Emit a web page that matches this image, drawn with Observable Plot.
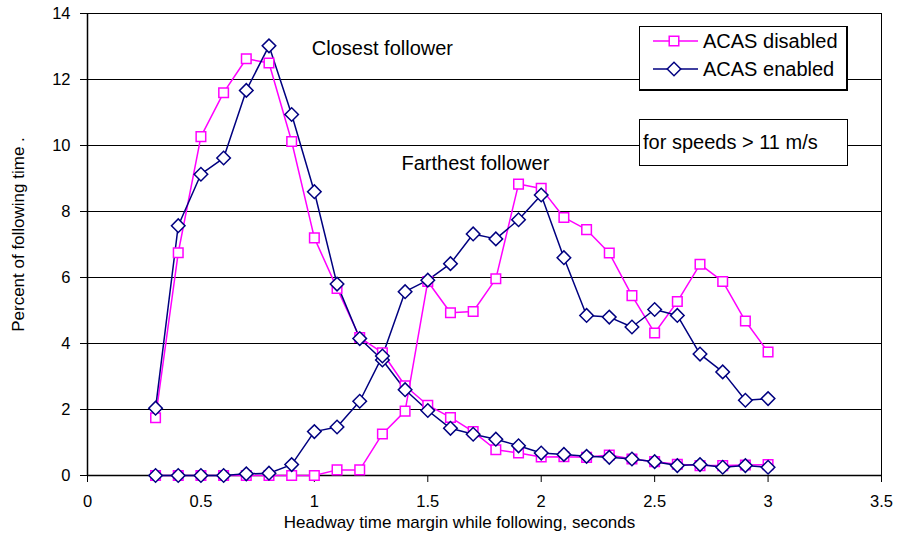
<!DOCTYPE html>
<html>
<head>
<meta charset="utf-8">
<script src="https://cdn.jsdelivr.net/npm/d3@7"></script>
<script src="https://cdn.jsdelivr.net/npm/@observablehq/plot@0.6"></script>
<style>
  body { margin: 0; background: #fff; font-family: "Liberation Sans", Arial, sans-serif; }
  #wrap { position: relative; width: 903px; height: 537px; }
  .box { position: absolute; background: #fff; color: #000; box-sizing: border-box; }
  #legend { left: 639px; top: 26px; width: 209px; height: 65px; border-left: 1px solid #000; border-top: 1px solid #000; border-right: 2px solid #000; border-bottom: 2px solid #000; }
  #note { left: 639px; top: 119px; width: 209px; height: 47px; border: 1.6px solid #000; font-size: 20px; line-height: 44px; padding-left: 3px; white-space: nowrap; }
  .lrow { position: absolute; left: 12px; height: 26px; display: flex; align-items: center; font-size: 20px; white-space: nowrap; }
  .lrow svg { margin-right: 5px; }
</style>
</head>
<body>
<div id="wrap">
  <div id="chart"></div>
  <div id="legend" class="box"></div>
  <div id="note" class="box"></div>
</div>
<script>
// ---- data ----
const xValues = [0.3,0.4,0.5,0.6,0.7,0.8,0.9,1.0,1.1,1.2,1.3,1.4,1.5,1.6,1.7,1.8,1.9,2.0,2.1,2.2,2.3,2.4,2.5,2.6,2.7,2.8,2.9,3.0];

const closestDisabled = [1.75,6.75,10.27,11.6,12.63,12.5,10.12,7.2,5.67,4.18,3.72,2.72,2.13,1.76,1.33,0.78,0.68,0.56,0.57,0.55,0.62,0.5,0.42,0.34,0.3,0.3,0.32,0.33];
const closestEnabled  = [2.04,7.57,9.13,9.62,11.67,13.02,10.94,8.6,5.8,4.15,3.5,2.6,1.97,1.43,1.25,1.1,0.9,0.68,0.64,0.58,0.55,0.5,0.42,0.3,0.33,0.25,0.3,0.25];
const farthestDisabled = [0,0,0,0,0,0,0,0,0.17,0.17,1.26,1.95,5.88,4.93,4.97,5.96,8.83,8.7,7.82,7.45,6.74,5.45,4.32,5.27,6.4,5.88,4.68,3.74];
const farthestEnabled  = [0,0,0,0,0.05,0.07,0.33,1.33,1.47,2.25,3.62,5.57,5.92,6.42,7.32,7.17,7.75,8.5,6.6,4.85,4.8,4.5,5.03,4.85,3.68,3.14,2.28,2.33];

const seriesNames = ["ACAS disabled", "ACAS enabled"];
const seriesColors = ["#FF00FF", "#000080"];
const yTicks = [0,2,4,6,8,10,12,14];
const xTicks = [0,0.5,1,1.5,2,2.5,3,3.5];
const xTitle = "Headway time margin while following, seconds";
const yTitle = "Percent of following time .";
const noteText = "for speeds > 11 m/s";
const curveLabels = [
  {label: "Closest follower", x: 1.3, y: 12.95},
  {label: "Farthest follower", x: 1.71, y: 9.45}
];

// ---- build table ----
const seriesList = [
  {id: "closest-disabled", name: seriesNames[0], values: closestDisabled},
  {id: "farthest-disabled", name: seriesNames[0], values: farthestDisabled},
  {id: "closest-enabled", name: seriesNames[1], values: closestEnabled},
  {id: "farthest-enabled", name: seriesNames[1], values: farthestEnabled}
];
const rows = [];
for (const s of seriesList) s.values.forEach((v, i) => rows.push({x: xValues[i], y: v, id: s.id, name: s.name}));

const chart = Plot.plot({
  width: 903,
  height: 537,
  marginLeft: 87,
  marginRight: 22,
  marginTop: 13,
  marginBottom: 62,
  style: {fontFamily: "'Liberation Sans', Arial, sans-serif", fontSize: "16px", color: "#000", background: "#fff"},
  x: {domain: [0, 3.5]},
  y: {domain: [0, 14]},
  color: {domain: seriesNames, range: seriesColors},
  marks: [
    Plot.ruleY(yTicks, {stroke: "#000", strokeWidth: 1}),
    Plot.frame({stroke: "#000", strokeWidth: 1}),
    Plot.axisY({ticks: yTicks, tickSize: 7, tickPadding: 10, fontSize: 16.5, label: null}),
    Plot.axisX({ticks: xTicks, tickSize: 7, tickPadding: 13, fontSize: 16.5, label: null, tickFormat: d => String(d)}),
    Plot.ruleX([0], {stroke: "#000", strokeWidth: 1.5}),
    Plot.ruleY([0], {stroke: "#000", strokeWidth: 1.5}),
    Plot.line(rows, {x: "x", y: "y", z: "id", stroke: "name", strokeWidth: 1.5}),
    Plot.dot(rows, {x: "x", y: "y", symbol: "square", r: 5.4, stroke: "name", fill: "white", strokeWidth: 1.5,
      rotate: d => d.name === seriesNames[1] ? 45 : 0}),
    Plot.text(curveLabels, {x: "x", y: "y", text: "label", fontSize: 20, fill: "#000"}),
    Plot.text([yTitle], {frameAnchor: "left", textAnchor: "middle", rotate: -90, dx: -69, dy: -10, fontSize: 17, fill: "#000"}),
    Plot.text([xTitle], {frameAnchor: "bottom", textAnchor: "middle", dx: -25, dy: 52, fontSize: 17, fill: "#000"})
  ]
});
document.getElementById("chart").appendChild(chart);

// ---- legend overlay ----
const legend = document.getElementById("legend");
seriesNames.forEach((name, i) => {
  const row = document.createElement("div");
  row.className = "lrow";
  row.style.top = (1 + i * 28) + "px";
  const svg = d3.create("svg").attr("width", 46).attr("height", 20);
  svg.append("line").attr("x1", 1).attr("x2", 46).attr("y1", 10).attr("y2", 10)
    .attr("stroke", seriesColors[i]).attr("stroke-width", 1.5);
  svg.append("path").attr("d", d3.symbol(d3.symbolSquare, 5.4 * 5.4 * Math.PI)())
    .attr("transform", `translate(22,10) rotate(${i === 1 ? 45 : 0})`)
    .attr("fill", "white").attr("stroke", seriesColors[i]).attr("stroke-width", 1.5);
  row.appendChild(svg.node());
  const t = document.createElement("span");
  t.textContent = name;
  row.appendChild(t);
  legend.appendChild(row);
});
document.getElementById("note").textContent = noteText;
</script>
</body>
</html>
